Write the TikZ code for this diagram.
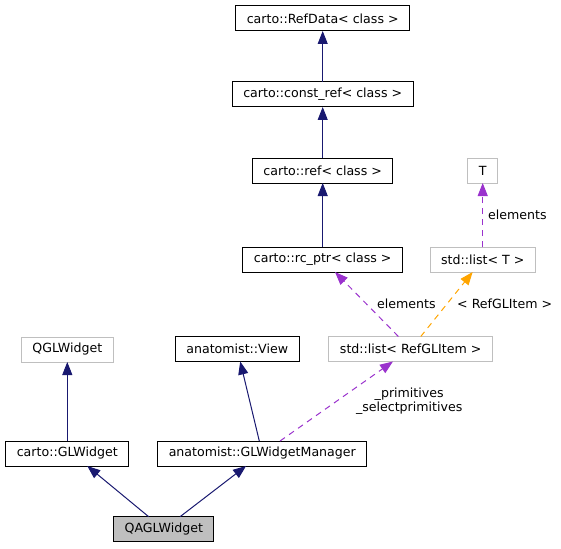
\documentclass[tikz,border=0pt]{standalone}
\usepackage{fontspec}
\setmainfont{DejaVu Sans}
\usepackage{tikz}
\usetikzlibrary{arrows.meta,positioning}
\definecolor{edgeblue}{HTML}{191970}
\definecolor{usepurple}{HTML}{9A32CD}
\definecolor{tmplorange}{HTML}{FFA500}
\definecolor{extgray}{HTML}{BFBFBF}
\tikzset{
	box/.style={rectangle,draw=black,line width=1pt,minimum height=25pt,inner xsep=11pt,outer sep=0pt,font=\fontsize{12.6pt}{15pt}\selectfont},
	extbox/.style={box,draw=extgray},
	curbox/.style={box,fill=extgray},
	link/.style={-{Triangle[length=13pt,width=10pt]},draw=edgeblue,line width=1pt},
	uselink/.style={link,draw=usepurple,-{Triangle[length=13pt,width=10pt,color=usepurple]},dash pattern=on 6pt off 5pt},
	tmpllink/.style={uselink,draw=tmplorange,-{Triangle[length=13pt,width=10pt,color=tmplorange]}},
	lbl/.style={font=\fontsize{12.6pt}{14.5pt}\selectfont,inner sep=0pt,align=center,text=black}
}

\begin{document}
\begin{tikzpicture}
		\useasboundingbox (0,0) rectangle (561pt,-548pt);
		\node[curbox] (qagl) at (163.8pt,-529.2pt) {QAGLWidget};
		\node[box] (glwidget) at (67.3pt,-453.5pt) {carto::GLWidget};
		\node[box] (manager) at (262.3pt,-453.5pt) {anatomist::GLWidgetManager};
		\node[extbox,above=79pt of glwidget] (qgl) {QGLWidget};
		\node[box] (view) at (237.2pt,-349pt) {anatomist::View};
		\node[extbox] (listitem) at (410.7pt,-349pt) {std::list< RefGLItem >};

		\node[box] (rcptr) at (322.7pt,-259.5pt) {carto::rc\_ptr< class >};
		\node[box,above=64pt of rcptr] (ref) {carto::ref< class >};
		\node[box,above=51pt of ref] (constref) {carto::const\_ref< class >};
		\node[box,above=51pt of constref] (refdata) {carto::RefData< class >};
		\node[extbox] (listT) at (482.7pt,-259.5pt) {std::list< T >};
		\node[extbox,above=64pt of listT] (T) {T};

		\draw[link] (qagl) -- ([xshift=20pt]glwidget.south);
		\draw[link] (qagl) -- (manager);
		\draw[link] (glwidget) -- (qgl);
		\draw[link] (manager) -- (view);
		\draw[uselink] (manager) -- (listitem)
			node[lbl,midway,right=19pt] (lblprim) {\_primitives\\\_selectprimitives};
		\draw[uselink] (listitem) -- (rcptr)
			node[lbl,midway,right=10pt] (lblelem) {elements};
		\draw[tmpllink] (listitem) -- (listT)
			node[lbl,midway,right=10pt] (lbltmpl) {< RefGLItem >};
		\draw[uselink] (listT) -- (T)
			node[lbl,midway,right=5pt] (lblelemT) {elements};
		\draw[link] (rcptr) -- (ref);
		\draw[link] (ref) -- (constref);
		\draw[link] (constref) -- (refdata);
		\end{tikzpicture}
\end{document}
